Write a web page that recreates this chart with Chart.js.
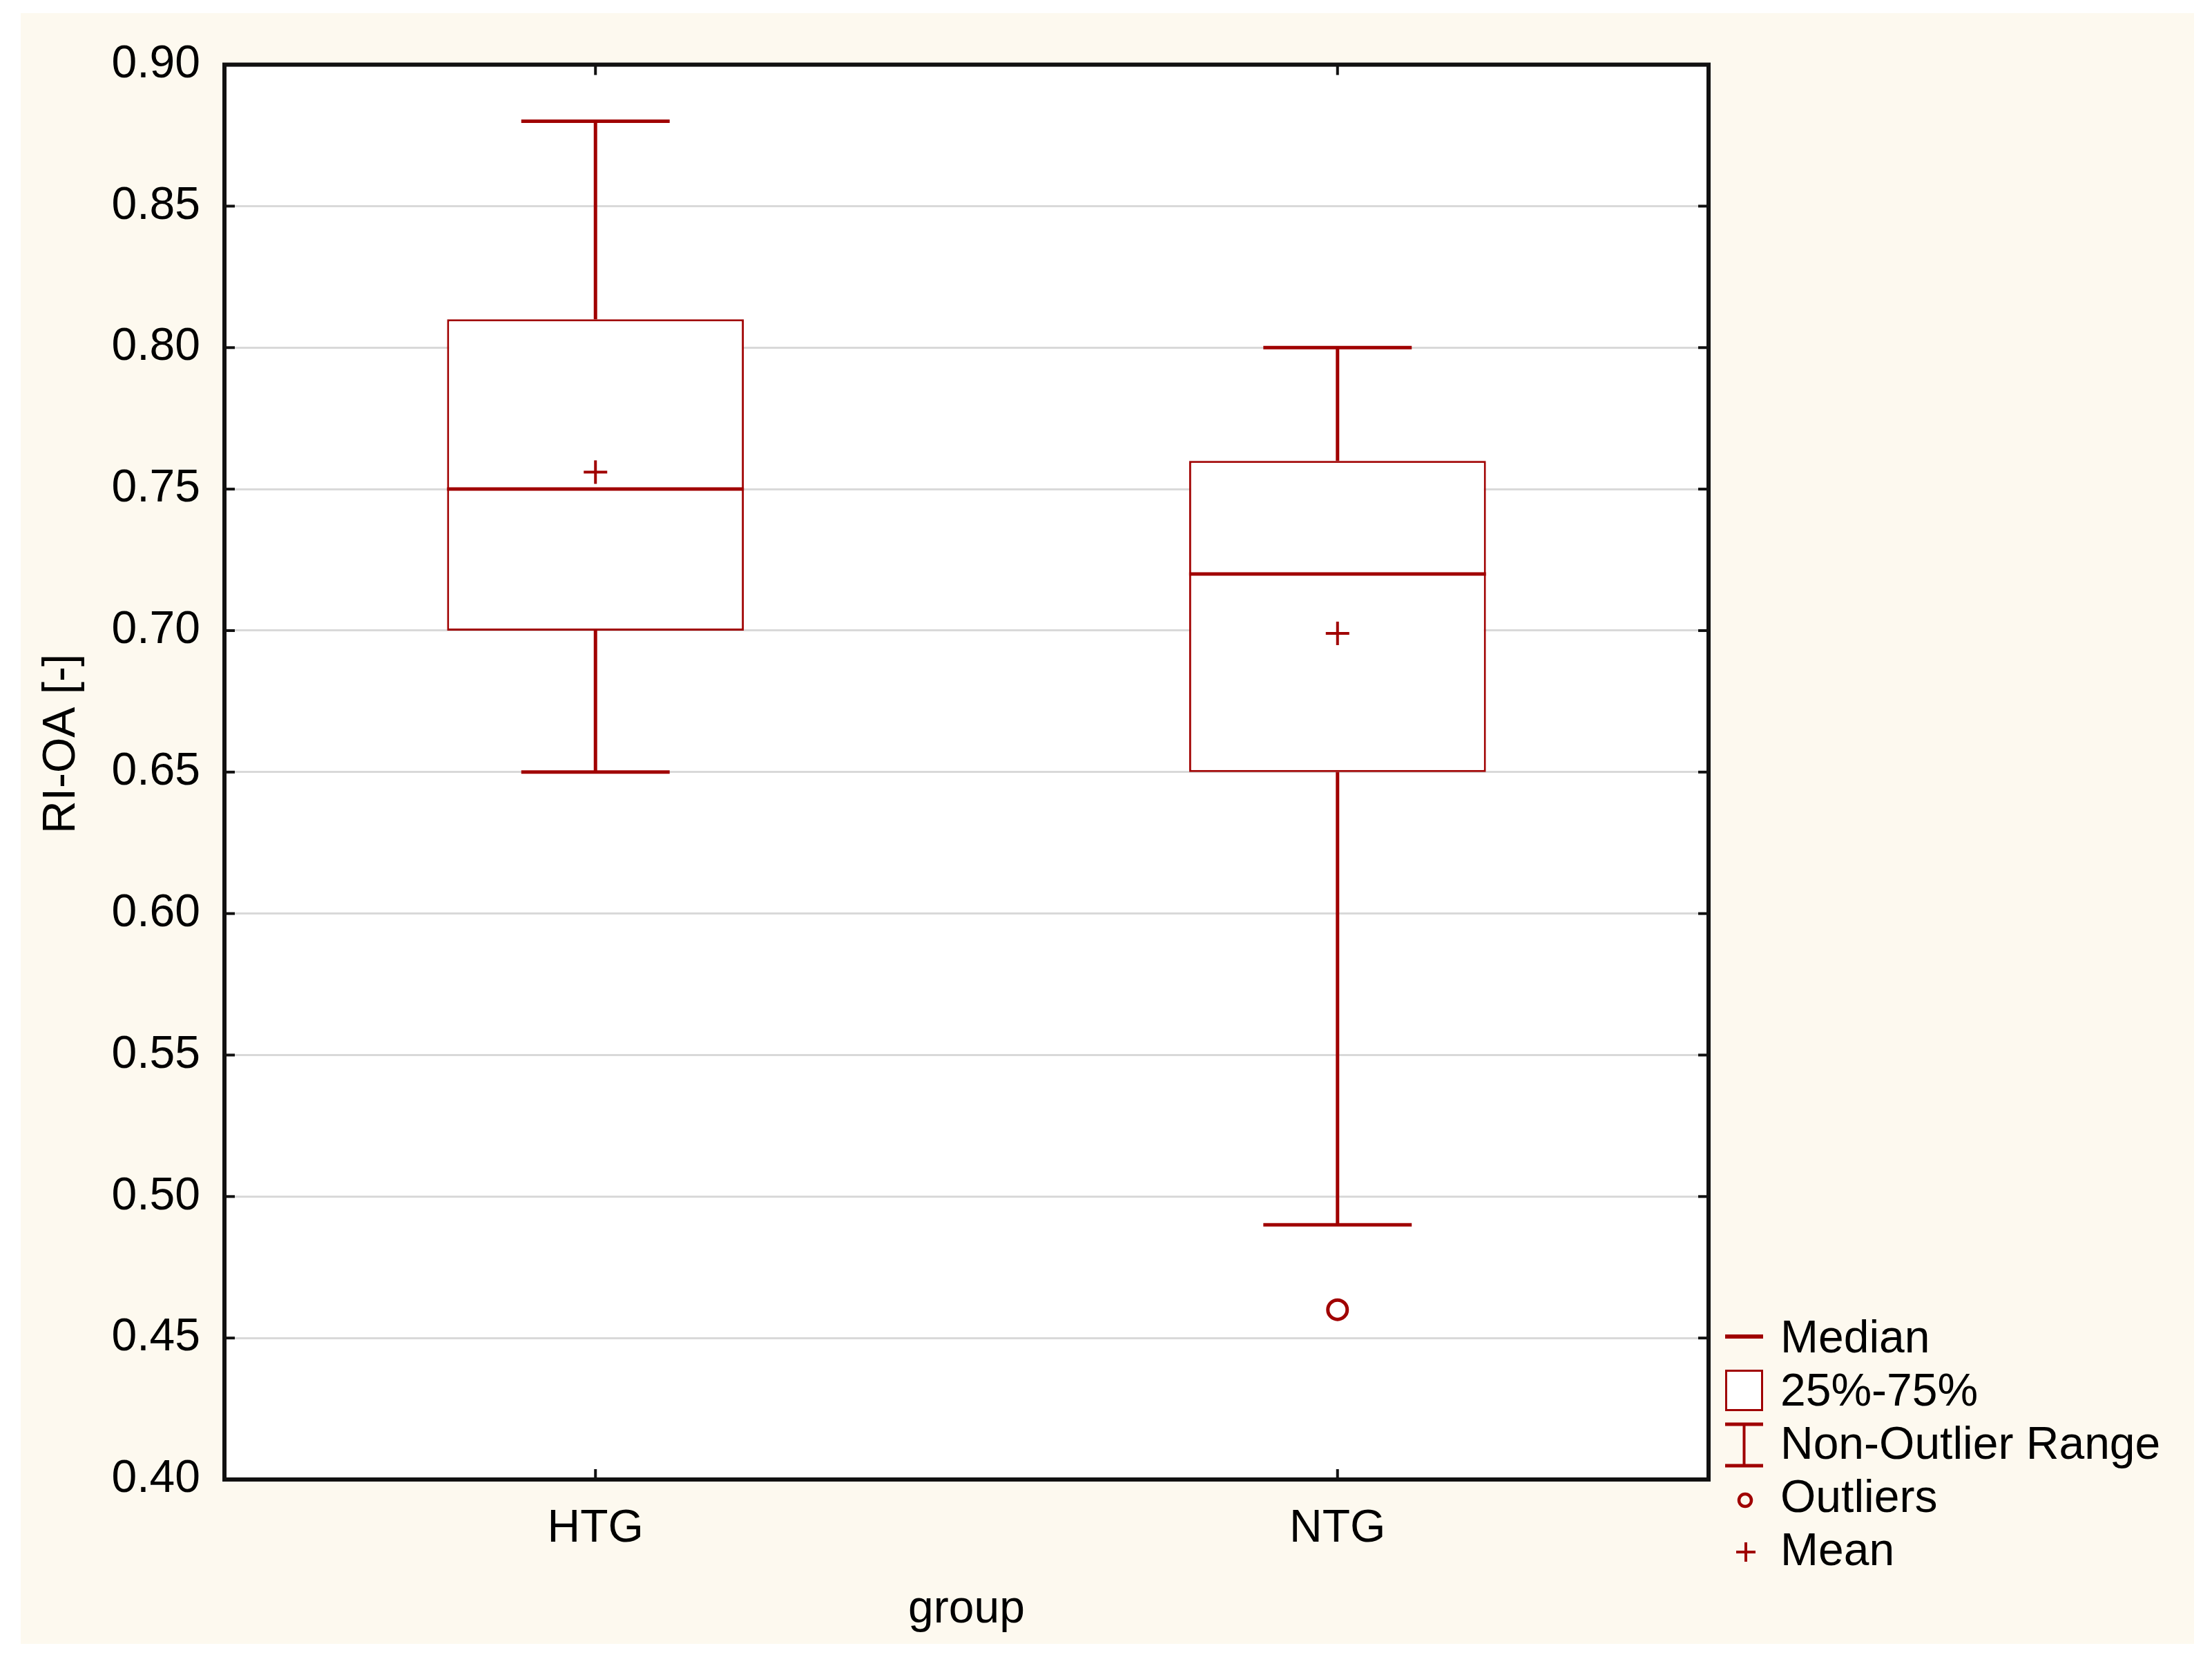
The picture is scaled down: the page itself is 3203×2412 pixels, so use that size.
<!DOCTYPE html>
<html>
<head>
<meta charset="utf-8">
<title>RI-OA by group</title>
<script src="https://cdn.jsdelivr.net/npm/chart.js@4.4.0/dist/chart.umd.min.js"></script>
<style>
  html, body { margin: 0; padding: 0; background: #ffffff; overflow: hidden; }
  body { width: 3203px; height: 2412px; position: relative; font-family: "Liberation Sans", Arial, sans-serif; }
  #plotBox { position: absolute; left: 30px; top: 19px; width: 3147px; height: 2361px; background: #fdf9ef; }
  #legend { position: absolute; left: 2490px; top: 1897px; width: 700px; height: 400px; }
  #legend svg { position: absolute; left: 0; top: 0; }
  #legend .item { position: absolute; left: 88px; font-size: 66px; line-height: 77px; color: #000; white-space: nowrap; }
</style>
</head>
<body>
<div id="plotBox"><canvas id="boxChart" width="3147" height="2361"></canvas></div>
<div id="legend">
  <svg width="90" height="400">
    <line x1="8" y1="38" x2="63" y2="38" stroke="#a00000" stroke-width="6" />
    <rect x="9.5" y="87.5" width="52" height="57" fill="#ffffff" stroke="#a00000" stroke-width="3" />
    <line x1="8" y1="165" x2="63" y2="165" stroke="#a00000" stroke-width="5" />
    <line x1="35.5" y1="165" x2="35.5" y2="225" stroke="#a00000" stroke-width="4" />
    <line x1="8" y1="225" x2="63" y2="225" stroke="#a00000" stroke-width="5" />
    <circle cx="37" cy="275" r="9" fill="none" stroke="#a00000" stroke-width="4.5" />
    <line x1="24" y1="350" x2="52" y2="350" stroke="#a00000" stroke-width="4" />
    <line x1="38" y1="336" x2="38" y2="364" stroke="#a00000" stroke-width="4" />
  </svg>
  <div class="item" style="top:0px">Median</div>
  <div class="item" style="top:77px">25%-75%</div>
  <div class="item" style="top:154px">Non-Outlier Range</div>
  <div class="item" style="top:231px">Outliers</div>
  <div class="item" style="top:308px">Mean</div>
</div>
<script>
// values
const categories = ["HTG", "NTG"];
const whiskerLow = [0.65, 0.49];
const q1 = [0.7, 0.65];
const median = [0.75, 0.72];
const q3 = [0.81, 0.76];
const whiskerHigh = [0.88, 0.8];
const means = [0.756, 0.699];
const outliers = [null, 0.46];
const yTicks = { min: 0.4, max: 0.9, step: 0.05 };
const yTitle = "RI-OA [-]";

const red = "#a00000";
const ctx = document.getElementById("boxChart");

Chart.defaults.font.family = "'Liberation Sans', Arial, sans-serif";
Chart.defaults.font.size = 66;
Chart.defaults.color = "#000000";

function line(c, x1, y1, x2, y2) {
  c.beginPath();
  c.moveTo(x1, y1);
  c.lineTo(x2, y2);
  c.stroke();
}

// white plot area, whiskers, medians, frame, inward ticks and y title
const boxPlotParts = {
  id: "boxPlotParts",
  beforeDraw(chart) {
    const a = chart.chartArea;
    const c = chart.ctx;
    c.save();
    c.fillStyle = "#ffffff";
    c.fillRect(a.left, a.top, a.right - a.left, a.bottom - a.top);
    c.restore();
  },
  afterDatasetsDraw(chart) {
    const c = chart.ctx;
    const x = chart.scales.x;
    const y = chart.scales.y;
    const boxes = chart.getDatasetMeta(0).data;
    c.save();
    c.strokeStyle = red;
    c.lineCap = "butt";
    for (let i = 0; i < categories.length; i++) {
      const px = x.getPixelForValue(i);
      const half = boxes[i].width / 2;
      const cap = half / 2;
      c.lineWidth = 5;
      line(c, px, y.getPixelForValue(q3[i]), px, y.getPixelForValue(whiskerHigh[i]));
      line(c, px, y.getPixelForValue(q1[i]), px, y.getPixelForValue(whiskerLow[i]));
      line(c, px - cap, y.getPixelForValue(whiskerHigh[i]), px + cap, y.getPixelForValue(whiskerHigh[i]));
      line(c, px - cap, y.getPixelForValue(whiskerLow[i]), px + cap, y.getPixelForValue(whiskerLow[i]));
      line(c, px - half, y.getPixelForValue(median[i]), px + half, y.getPixelForValue(median[i]));
    }
    c.restore();
  },
  afterDraw(chart) {
    const a = chart.chartArea;
    const c = chart.ctx;
    const x = chart.scales.x;
    const y = chart.scales.y;
    c.save();
    c.strokeStyle = "#111111";
    c.lineWidth = 4;
    y.ticks.forEach((t, i) => {
      const py = y.getPixelForTick(i);
      line(c, a.left, py, a.left + 15, py);
      line(c, a.right - 15, py, a.right, py);
    });
    categories.forEach((cat, i) => {
      const px = x.getPixelForValue(i);
      line(c, px, a.top, px, a.top + 15);
      line(c, px, a.bottom - 15, px, a.bottom);
    });
    c.lineWidth = 6;
    c.strokeRect(a.left, a.top, a.right - a.left, a.bottom - a.top);

    // y title sits a bit above the middle of the axis in the original
    c.translate(60, y.getPixelForValue(0.66));
    c.rotate(-Math.PI / 2);
    c.fillStyle = "#000000";
    c.font = "66px 'Liberation Sans', Arial, sans-serif";
    c.textAlign = "center";
    c.textBaseline = "middle";
    c.fillText(yTitle, 0, 0);
    c.restore();
  },
};

const chart = new Chart(ctx, {
  type: "bar",
  data: {
    labels: categories,
    datasets: [
      {
        label: "25%-75%",
        data: categories.map((c, i) => [q1[i], q3[i]]),
        backgroundColor: "#ffffff",
        borderColor: red,
        borderWidth: 3,
        borderSkipped: false,
        barPercentage: 0.4,
        categoryPercentage: 1.0,
        order: 2,
      },
      {
        type: "line",
        label: "Mean",
        data: means,
        showLine: false,
        pointStyle: "cross",
        pointRadius: 17,
        pointBorderWidth: 4,
        pointBorderColor: red,
        order: 1,
      },
      {
        type: "line",
        label: "Outliers",
        data: outliers,
        showLine: false,
        pointStyle: "circle",
        pointRadius: 14,
        pointBorderWidth: 5,
        pointBorderColor: red,
        pointBackgroundColor: "rgba(0,0,0,0)",
        order: 1,
      },
    ],
  },
  options: {
    responsive: false,
    devicePixelRatio: 1,
    animation: false,
    layout: { padding: { top: 67, right: 703, bottom: 0, left: 0 } },
    plugins: {
      legend: { display: false },
      tooltip: { enabled: false },
    },
    scales: {
      x: {
        grid: { display: false, drawTicks: false },
        border: { display: false },
        ticks: { padding: 32, color: "#000000" },
        title: { display: true, text: "group", padding: { top: 0, bottom: 10 }, color: "#000000" },
        afterFit: (s) => { s.height = 238; },
      },
      y: {
        min: yTicks.min,
        max: yTicks.max,
        grid: { color: "#d9d9d9", lineWidth: 3, drawTicks: false },
        border: { display: false },
        ticks: {
          stepSize: yTicks.step,
          padding: 35,
          color: "#000000",
          callback: (v) => v.toFixed(2),
        },
        afterFit: (s) => { s.width = 295; },
      },
    },
  },
  plugins: [boxPlotParts],
});
</script>
</body>
</html>
